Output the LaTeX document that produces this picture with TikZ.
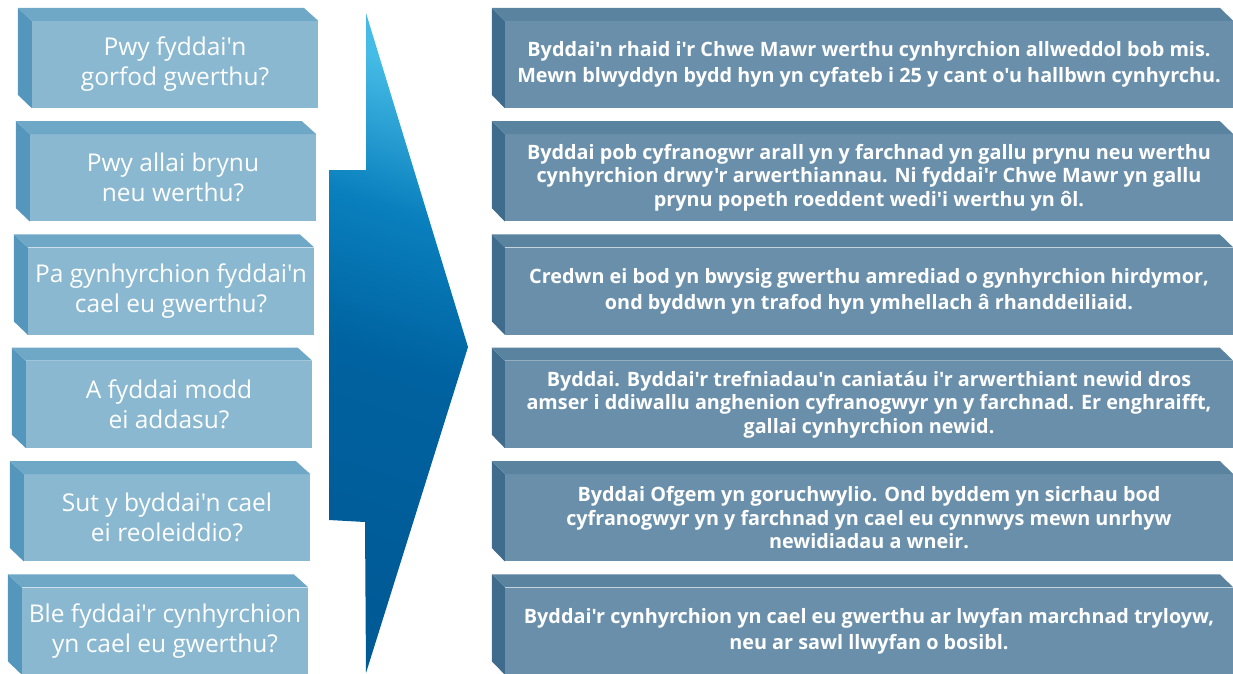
\documentclass[tikz,border=0pt]{standalone}
\usepackage{fontspec}
\newfontfamily\qfont{Open Sans}
\definecolor{lfront}{HTML}{89B8D0}
\definecolor{ltop}{HTML}{6FA8C7}
\definecolor{lside}{HTML}{5597BC}
\definecolor{rfront}{HTML}{6A8FAA}
\definecolor{rtop}{HTML}{5A839F}
\definecolor{rside}{HTML}{3F6C8D}
\definecolor{adark}{HTML}{005A96}
\definecolor{amid}{HTML}{0062A0}
\definecolor{amid2}{HTML}{0A80BE}
\definecolor{alight}{HTML}{45BCE6}
\pgfdeclareverticalshading{arrowshade}{100bp}{color(0bp)=(adark); color(25bp)=(adark); color(48bp)=(amid); color(62bp)=(amid2); color(75bp)=(alight); color(100bp)=(alight)}
\tikzset{
  lbox/.style={rectangle, fill=lfront, minimum width=286pt, minimum height=87pt, inner sep=0pt, align=center, text=white, font=\qfont\fontsize{24.5}{30}\selectfont},
  rbox/.style={rectangle, fill=rfront, minimum width=728pt, minimum height=87pt, inner sep=0pt, align=center, text=white, font=\qfont\bfseries\fontsize{19.8}{26}\selectfont},
  tight/.style={font=\qfont\bfseries\fontsize{19.8}{23.5}\selectfont},
}
\newcommand{\leftbox}[4]{%
  \node[lbox] (#1) at (#2,#3) {#4};
  \fill[lside] (#1.north west) -- ++(-14,-13) -- ++(0,87) -- (#1.south west) -- cycle;
  \fill[ltop] (#1.north west) -- ++(-14,-13) -- ++(286,0) -- (#1.north east) -- cycle;
}
\newcommand{\rightbox}[5][]{%
  \node[rbox,#1] (#2) at (#3,#4) {#5};
  \fill[rside] (#2.north west) -- ++(-13,-13) -- ++(0,87) -- (#2.south west) -- cycle;
  \fill[rtop] (#2.north west) -- ++(-13,-13) -- ++(728,0) -- (#2.north east) -- cycle;
}
\begin{document}
\begin{tikzpicture}[x=1pt,y=-1pt]
\useasboundingbox (0,0) rectangle (1233,674);
% arrow
\shade[shading=arrowshade, shading angle=-18] (366,13) -- (468,347) -- (366,673) -- (365,522) -- (329,520) -- (329,170) -- (366,170) -- cycle;
% left boxes
\leftbox{q1}{175}{64.5}{Pwy fyddai'n\\gorfod gwerthu?}
\leftbox{q2}{173}{177.8}{Pwy allai brynu\\neu werthu?}
\leftbox{q3}{171}{291.1}{Pa gynhyrchion fyddai'n\\cael eu gwerthu?}
\leftbox{q4}{169}{404.4}{A fyddai modd\\ei addasu?}
\leftbox{q5}{167}{517.7}{Sut y byddai'n cael\\ei reoleiddio?}
\leftbox{q6}{165}{631}{Ble fyddai'r cynhyrchion\\yn cael eu gwerthu?}
% right boxes
\rightbox{a1}{869}{64.5}{Byddai'n rhaid i'r Chwe Mawr werthu cynhyrchion allweddol bob mis.\\Mewn blwyddyn bydd hyn yn cyfateb i 25 y cant o'u hallbwn cynhyrchu.}
\rightbox[tight]{a2}{869}{177.8}{Byddai pob cyfranogwr arall yn y farchnad yn gallu prynu neu werthu\\cynhyrchion drwy'r arwerthiannau. Ni fyddai'r Chwe Mawr yn gallu\\prynu popeth roeddent wedi'i werthu yn ôl.}
\rightbox{a3}{869}{291.1}{Credwn ei bod yn bwysig gwerthu amrediad o gynhyrchion hirdymor,\\ond byddwn yn trafod hyn ymhellach â rhanddeiliaid.}
\rightbox[tight]{a4}{869}{404.4}{Byddai. Byddai'r trefniadau'n caniatáu i'r arwerthiant newid dros\\amser i ddiwallu anghenion cyfranogwyr yn y farchnad. Er enghraifft,\\gallai cynhyrchion newid.}
\rightbox[tight]{a5}{869}{517.7}{Byddai Ofgem yn goruchwylio. Ond byddem yn sicrhau bod\\cyfranogwyr yn y farchnad yn cael eu cynnwys mewn unrhyw\\newidiadau a wneir.}
\rightbox{a6}{869}{631}{Byddai'r cynhyrchion yn cael eu gwerthu ar lwyfan marchnad tryloyw,\\neu ar sawl llwyfan o bosibl.}
\end{tikzpicture}
\end{document}
